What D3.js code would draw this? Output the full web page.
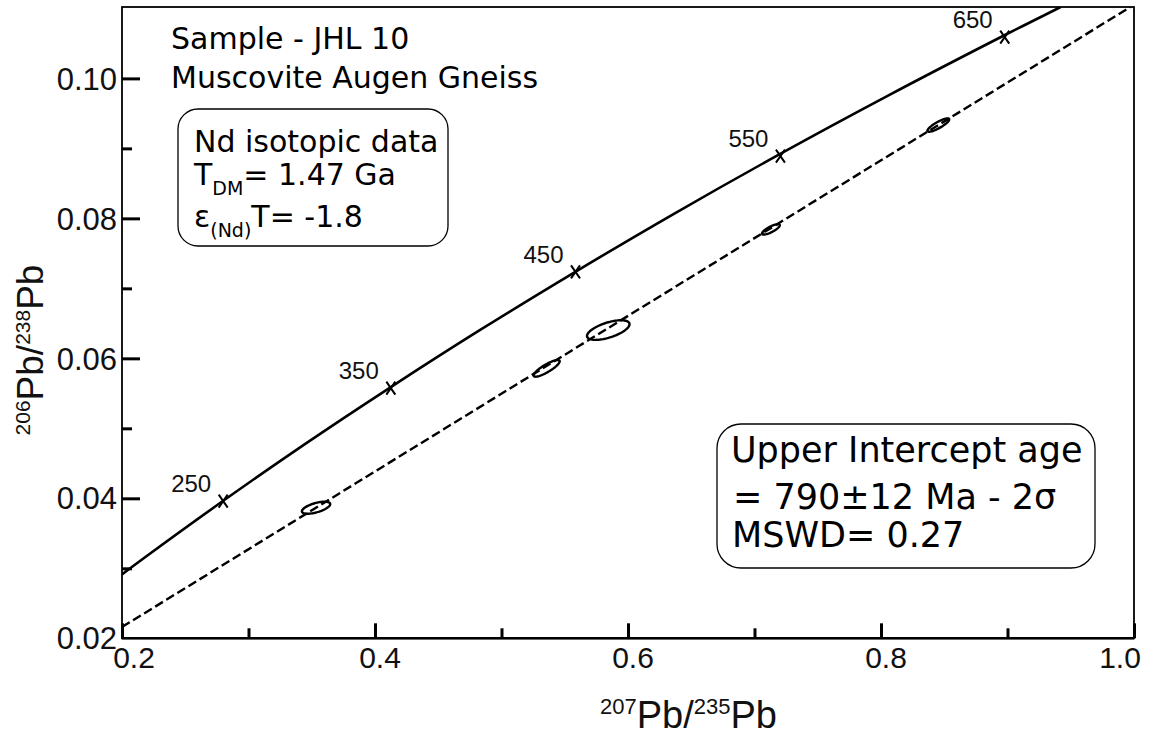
<!DOCTYPE html>
<html><head><meta charset="utf-8">
<script src="https://cdn.jsdelivr.net/npm/d3@7"></script>
<style>body{margin:0;background:#fff}svg{display:block}</style>
</head><body>
<svg id="chart" width="1153" height="738"></svg>
<script>
// ---- data ----
const xMajor = [0.2, 0.4, 0.6, 0.8, 1.0];
const xMinor = [0.3, 0.5, 0.7, 0.9];
const xTickLabels = ["0.2", "0.4", "0.6", "0.8", "1.0"];
const yMajor = [0.02, 0.04, 0.06, 0.08, 0.10];
const yMinor = [0.03, 0.05, 0.07, 0.09];
const yTickLabels = ["0.02", "0.04", "0.06", "0.08", "0.10"];

// concordia curve
const concAge = [185, 200, 250, 300, 350, 400, 450, 500, 550, 600, 650, 674];
const concX = [0.2000, 0.2177, 0.2792, 0.3437, 0.4116, 0.4828, 0.5577, 0.6363, 0.7189, 0.8056, 0.8968, 0.9420];
const concY = [0.02913, 0.03151, 0.03954, 0.04764, 0.05579, 0.06402, 0.07229, 0.08065, 0.08907, 0.09754, 0.10609, 0.11020];

// age markers on concordia
const markAge = [250, 350, 450, 550, 650];
const markX = [0.2800, 0.4125, 0.5585, 0.7205, 0.8978];
const markY = [0.03960, 0.05575, 0.07235, 0.08890, 0.10590];

// discordia line
const discX = [0.2000, 0.9971];
const discY = [0.02161, 0.11020];

// analyses (error ellipses)
const ellX = [0.3534, 0.5357, 0.5844, 0.7130, 0.8453];
const ellY = [0.03866, 0.05857, 0.06404, 0.07843, 0.09333];
const ellSx = [0.0112, 0.0103, 0.0168, 0.0070, 0.0086];
const ellSy = [0.00086, 0.00119, 0.00140, 0.00074, 0.00095];
const ellRho = [0.6, 0.85, 0.6, 0.8, 0.85];

// ---- layout ----
const L = 122, R = 1134, T = 7, B = 638.3;
const svg = d3.select("#chart");
const x = d3.scaleLinear().domain([0.2, 1.0]).range([L, R]);
const y = d3.scaleLinear().domain([0.02, 0.1102]).range([B, T]);
const tickFont = "'Liberation Sans', Arial, sans-serif";
const annFont = "'DejaVu Sans', Verdana, sans-serif";

// frame
svg.append("rect").attr("x", L).attr("y", T).attr("width", R - L).attr("height", B - T)
  .attr("fill", "none").attr("stroke", "#000").attr("stroke-width", 1.8);
svg.append("line").attr("x1", L).attr("x2", R).attr("y1", B).attr("y2", B)
  .attr("stroke", "#000").attr("stroke-width", 2.5);

// ticks via d3 axes (inward)
const xAxisMaj = d3.axisTop(x).tickValues(xMajor).tickSize(15).tickFormat("");
const xAxisMin = d3.axisTop(x).tickValues(xMinor).tickSize(10).tickFormat("");
const yAxisMaj = d3.axisRight(y).tickValues(yMajor.filter(v => v > 0.02)).tickSize(18).tickFormat("");
const yAxisMin = d3.axisRight(y).tickValues(yMinor).tickSize(10).tickFormat("");
[[xAxisMaj, `translate(0,${B})`], [xAxisMin, `translate(0,${B})`],
 [yAxisMaj, `translate(${L},0)`], [yAxisMin, `translate(${L},0)`]].forEach(([ax, tr]) => {
  const g = svg.append("g").attr("transform", tr).call(ax);
  g.select(".domain").remove();
  g.selectAll(".tick line").attr("stroke", "#000").attr("stroke-width", 3);
});

// tick labels
const xLabelShift = [12, 5, 5, 5, -14];
svg.append("g").selectAll("text").data(xMajor).join("text")
  .attr("x", (d, i) => x(d) + xLabelShift[i]).attr("y", 668)
  .attr("text-anchor", "middle").attr("font-family", tickFont).attr("font-size", 30)
  .attr("fill", "#111").text((d, i) => xTickLabels[i]);
svg.append("g").selectAll("text").data(yMajor).join("text")
  .attr("x", 117).attr("y", d => y(d)).attr("dy", "0.36em")
  .attr("text-anchor", "end").attr("font-family", tickFont).attr("font-size", 31)
  .attr("fill", "#111").text((d, i) => yTickLabels[i]);

// axis titles
function isoTitle(t, big, small, shift) {
  t.append("tspan").attr("font-size", small).attr("dy", -shift).text(t.datum()[0]);
  t.append("tspan").attr("font-size", big).attr("dy", shift).text("Pb/");
  t.append("tspan").attr("font-size", small).attr("dy", -shift).text(t.datum()[1]);
  t.append("tspan").attr("font-size", big).attr("dy", shift).text("Pb");
}
svg.append("text").datum(["207", "235"]).attr("x", 600).attr("y", 728)
  .attr("font-family", tickFont).attr("fill", "#111").call(isoTitle, 38, 22, 14);
svg.append("text").datum(["206", "238"]).attr("transform", "translate(43,350) rotate(-90)")
  .attr("text-anchor", "middle").attr("font-family", tickFont).attr("fill", "#111").call(isoTitle, 37, 21, 13);

// clip
svg.append("clipPath").attr("id", "plot").append("rect")
  .attr("x", L).attr("y", T).attr("width", R - L).attr("height", B - T);
const plot = svg.append("g").attr("clip-path", "url(#plot)");

// concordia
const concPts = concAge.map((a, i) => [concX[i], concY[i]]);
plot.append("path").datum(concPts)
  .attr("d", d3.line().x(d => x(d[0])).y(d => y(d[1])).curve(d3.curveCatmullRom))
  .attr("fill", "none").attr("stroke", "#000").attr("stroke-width", 2.6);

// discordia
plot.append("path").datum(discX.map((v, i) => [v, discY[i]]))
  .attr("d", d3.line().x(d => x(d[0])).y(d => y(d[1])))
  .attr("fill", "none").attr("stroke", "#000").attr("stroke-width", 2.4)
  .attr("stroke-dasharray", "9,4");

// error ellipses
const ellLine = d3.line().x(d => x(d[0])).y(d => y(d[1])).curve(d3.curveLinearClosed);
ellX.forEach((cx, i) => {
  const pts = d3.range(0, 2 * Math.PI, Math.PI / 40).map(t => [
    cx + ellSx[i] * Math.cos(t),
    ellY[i] + ellSy[i] * (ellRho[i] * Math.cos(t) + Math.sqrt(1 - ellRho[i] ** 2) * Math.sin(t))
  ]);
  plot.append("path").attr("d", ellLine(pts)).attr("fill", "none")
    .attr("stroke", "#000").attr("stroke-width", 2.4);
});

// age markers and labels
markAge.forEach((a, i) => {
  const px = x(markX[i]), py = y(markY[i]);
  plot.append("path").attr("d", `M${px - 4.5},${py - 6.5}L${px + 4.5},${py + 6.5}M${px + 4.5},${py - 6.5}L${px - 4.5},${py + 6.5}`)
    .attr("stroke", "#000").attr("stroke-width", 2);
  svg.append("text").attr("x", px - 12).attr("y", py - 9).attr("text-anchor", "end")
    .attr("font-family", tickFont).attr("font-size", 24).attr("fill", "#111").text(a);
});

// sample annotation
svg.append("text").attr("x", 171).attr("y", 49).attr("font-family", annFont)
  .attr("font-size", 30).attr("fill", "#000").text("Sample - JHL 10");
svg.append("text").attr("x", 171).attr("y", 88).attr("font-family", annFont)
  .attr("font-size", 30).attr("fill", "#000").text("Muscovite Augen Gneiss");

// Nd box
svg.append("rect").attr("x", 178).attr("y", 109).attr("width", 270).attr("height", 137)
  .attr("rx", 20).attr("fill", "#fff").attr("stroke", "#000").attr("stroke-width", 1.3);
svg.append("text").attr("x", 194).attr("y", 152).attr("font-family", annFont)
  .attr("font-size", 30).text("Nd isotopic data");
const t2 = svg.append("text").attr("x", 194).attr("y", 185).attr("font-family", annFont).attr("font-size", 30);
t2.append("tspan").text("T");
t2.append("tspan").attr("font-size", 19).attr("dy", 10).text("DM");
t2.append("tspan").attr("dy", -10).text("= 1.47 Ga");
const t3 = svg.append("text").attr("x", 194).attr("y", 227).attr("font-family", annFont).attr("font-size", 30);
t3.append("tspan").text("ε");
t3.append("tspan").attr("font-size", 19).attr("dy", 10).text("(Nd)");
t3.append("tspan").attr("dy", -10).text("T= -1.8");

// upper intercept box
svg.append("rect").attr("x", 717).attr("y", 424).attr("width", 378).attr("height", 144)
  .attr("rx", 24).attr("fill", "#fff").attr("stroke", "#000").attr("stroke-width", 1.3);
svg.append("text").attr("x", 731).attr("y", 462).attr("font-family", annFont)
  .attr("font-size", 35).text("Upper Intercept age");
svg.append("text").attr("x", 733).attr("y", 509).attr("font-family", annFont)
  .attr("font-size", 35).text("= 790±12 Ma - 2σ");
svg.append("text").attr("x", 732).attr("y", 547).attr("font-family", annFont)
  .attr("font-size", 35).text("MSWD= 0.27");
</script>
</body></html>
